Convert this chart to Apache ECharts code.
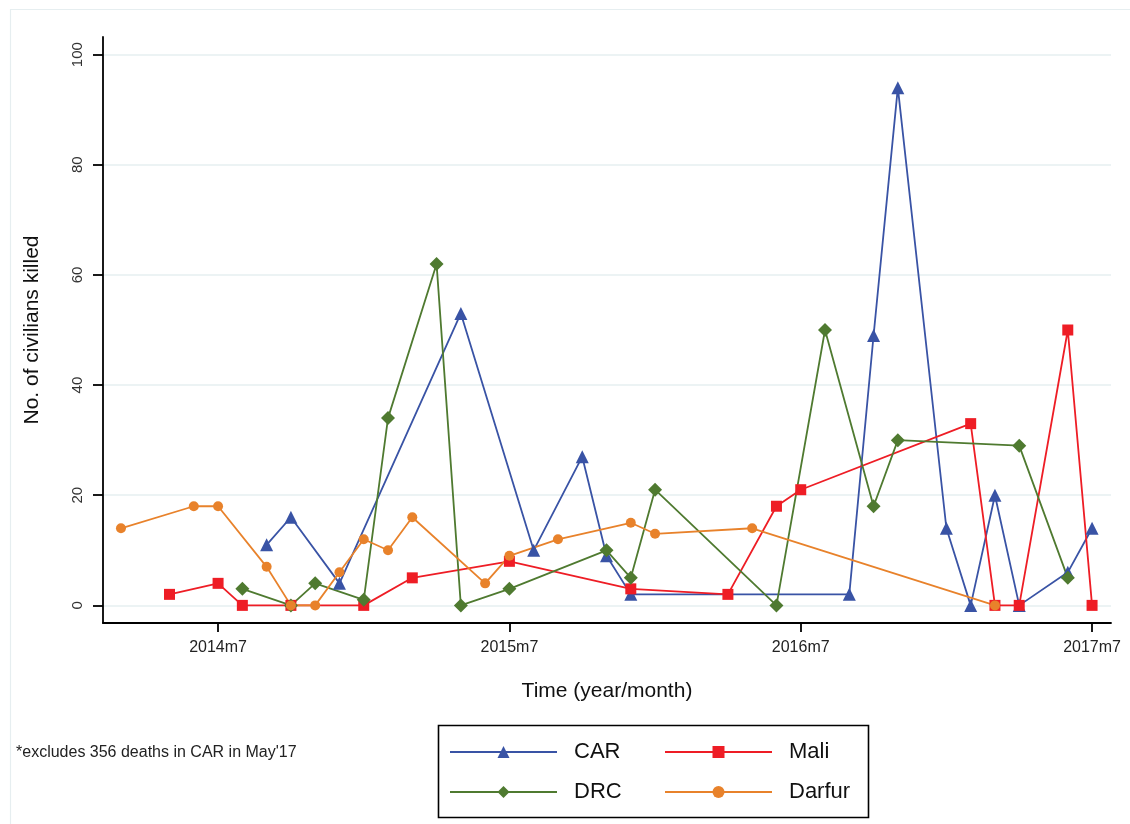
<!DOCTYPE html>
<html>
<head>
<meta charset="utf-8">
<script src="https://cdn.jsdelivr.net/npm/echarts@6/dist/echarts.min.js"></script>
<style>
  html, body { margin: 0; padding: 0; background: #fff; }
  #main { width: 1130px; height: 824px; }
</style>
</head>
<body>
<div id="main"></div>
<script>
// monthly counts, Stata %tm style labels
const carMonths = ['2014m9', '2014m10', '2014m12', '2015m5', '2015m8', '2015m10', '2015m11', '2015m12', '2016m9', '2016m10', '2016m11', '2017m1', '2017m2', '2017m3', '2017m4', '2017m6', '2017m7'];
const carValues = [11, 16, 4, 53, 10, 27, 9, 2, 2, 49, 94, 14, 0, 20, 0, 6, 14];

const maliMonths = ['2014m5', '2014m7', '2014m8', '2014m10', '2015m1', '2015m3', '2015m7', '2015m12', '2016m4', '2016m6', '2016m7', '2017m2', '2017m3', '2017m4', '2017m6', '2017m7'];
const maliValues = [2, 4, 0, 0, 0, 5, 8, 3, 2, 18, 21, 33, 0, 0, 50, 0];

const drcMonths = ['2014m8', '2014m10', '2014m11', '2015m1', '2015m2', '2015m4', '2015m5', '2015m7', '2015m11', '2015m12', '2016m1', '2016m6', '2016m8', '2016m10', '2016m11', '2017m4', '2017m6'];
const drcValues = [3, 0, 4, 1, 34, 62, 0, 3, 10, 5, 21, 0, 50, 18, 30, 29, 5];

const darfurMonths = ['2014m3', '2014m6', '2014m7', '2014m9', '2014m10', '2014m11', '2014m12', '2015m1', '2015m2', '2015m3', '2015m6', '2015m7', '2015m9', '2015m12', '2016m1', '2016m5', '2017m3'];
const darfurValues = [14, 18, 18, 7, 0, 0, 6, 12, 10, 16, 4, 9, 12, 15, 13, 14, 0];

const xTickLabels = ['2014m7', '2015m7', '2016m7', '2017m7'];
const yTicks = [0, 20, 40, 60, 80, 100];

// "2014m7" -> months since 1960m1
function tm(s) {
    const p = s.split('m');
    return (+p[0] - 1960) * 12 + (+p[1] - 1);
}
function tmLabel(v) {
    return (1960 + Math.floor(v / 12)) + 'm' + (v % 12 + 1);
}
function pairs(months, values) {
    return months.map((m, i) => [tm(m), values[i]]);
}

const font = 'Liberation Sans, Arial, sans-serif';
const colors = { CAR: '#3953a5', Mali: '#ee1d25', DRC: '#4f7a30', Darfur: '#e8822b' };

function lineSeries(name, data, symbol, size) {
    return {
        name: name,
        type: 'line',
        data: data,
        symbol: symbol,
        symbolSize: size,
        showAllSymbol: true,
        color: colors[name],
        lineStyle: { width: 1.8, color: colors[name] },
        itemStyle: { color: colors[name] },
        emphasis: { disabled: true },
        animation: false
    };
}

function legendAt(name, left, top) {
    return {
        data: [name],
        left: left,
        top: top,
        itemWidth: 107,
        itemHeight: 15,
        padding: 0,
        selectedMode: false,
        textStyle: { fontFamily: font, fontSize: 22, color: '#111', padding: [0, 0, 0, 12] }
    };
}

const chart = echarts.init(document.getElementById('main'));
chart.setOption({
    backgroundColor: '#fff',
    animation: false,
    grid: { left: 103, right: 19, top: 37, bottom: 201 },
    xAxis: {
        type: 'value',
        min: tm('2014m7') - 4.74,
        max: tm('2017m7') + 0.78,
        name: 'Time (year/month)',
        nameLocation: 'middle',
        nameGap: 58,
        nameTextStyle: { fontFamily: font, fontSize: 21, color: '#111' },
        axisLine: { show: true, onZero: false, lineStyle: { color: '#000', width: 1.8 } },
        axisTick: { show: true, length: 9, lineStyle: { color: '#000', width: 1.8 }, customValues: xTickLabels.map(tm) },
        axisLabel: { customValues: xTickLabels.map(tm), formatter: tmLabel, margin: 17, fontFamily: font, fontSize: 16, color: '#222' },
        splitLine: { show: false }
    },
    yAxis: {
        type: 'value',
        min: -3.2,
        max: 103.2,
        name: 'No. of civilians killed',
        nameLocation: 'middle',
        nameGap: 60,
        nameRotate: 90,
        nameTextStyle: { fontFamily: font, fontSize: 21, color: '#111' },
        axisLine: { show: true, onZero: false, lineStyle: { color: '#000', width: 1.8 } },
        axisTick: { show: true, length: 10, lineStyle: { color: '#000', width: 1.8 }, customValues: yTicks },
        axisLabel: { customValues: yTicks, rotate: 90, margin: 18, fontFamily: font, fontSize: 15, color: '#333' },
        splitLine: { show: true, lineStyle: { color: '#e6eff1', width: 1.6 } }
    },
    legend: [
        legendAt('CAR', 449, 741),
        legendAt('Mali', 664, 741),
        legendAt('DRC', 449, 781),
        legendAt('Darfur', 664, 781)
    ],
    series: [
        lineSeries('CAR', pairs(carMonths, carValues), 'triangle', 13),
        lineSeries('Mali', pairs(maliMonths, maliValues), 'rect', 11),
        lineSeries('DRC', pairs(drcMonths, drcValues), 'diamond', 14),
        lineSeries('Darfur', pairs(darfurMonths, darfurValues), 'circle', 10)
    ],
    graphic: [
        {
            type: 'rect', left: 8, top: 7, silent: true, z: -10,
            shape: { width: 1140, height: 840 },
            style: { fill: 'none', stroke: '#e6eef0', lineWidth: 1.2 }
        },
        {
            type: 'rect', left: 436, top: 723, silent: true,
            shape: { width: 430, height: 92 },
            style: { fill: 'none', stroke: '#000', lineWidth: 1.6 }
        },
        {
            type: 'text', left: 16, top: 745, silent: true,
            style: { text: "*excludes 356 deaths in CAR in May'17", fontFamily: font, fontSize: 16, fill: '#222' }
        }
    ]
});
</script>
</body>
</html>
